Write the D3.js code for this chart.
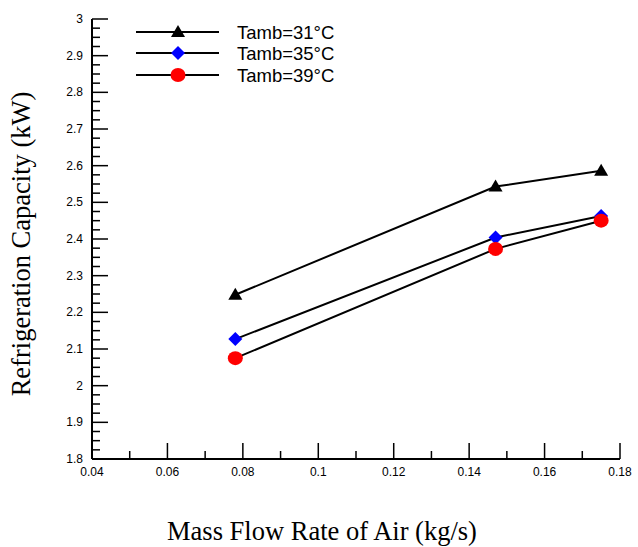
<!DOCTYPE html>
<html>
<head>
<meta charset="utf-8">
<script src="https://cdn.jsdelivr.net/npm/d3@7"></script>
<style>
  html, body { margin: 0; padding: 0; background: #fff; }
  svg { display: block; }
</style>
</head>
<body>
<svg id="chart" width="638" height="547"></svg>
<script>
// Mass flow rate of air (kg/s)
const massFlow = [0.078, 0.147, 0.175];
// Refrigeration capacity (kW) for each ambient temperature
const capT31 = [2.248, 2.543, 2.586];
const capT35 = [2.127, 2.404, 2.463];
const capT39 = [2.075, 2.373, 2.450];
const seriesNames = ["Tamb=31°C", "Tamb=35°C", "Tamb=39°C"];
const xTickValues = [0.04, 0.06, 0.08, 0.1, 0.12, 0.14, 0.16, 0.18];
const yTickValues = [1.8, 1.9, 2, 2.1, 2.2, 2.3, 2.4, 2.5, 2.6, 2.7, 2.8, 2.9, 3];

(function () {
const series = [
  { name: seriesNames[0], values: capT31, marker: "triangle", color: "#000000" },
  { name: seriesNames[1], values: capT35, marker: "diamond", color: "#0000ff" },
  { name: seriesNames[2], values: capT39, marker: "circle", color: "#ff0000" }
];

const svg = d3.select("#chart");
const plotLeft = 92, plotRight = 620, plotTop = 19, plotBottom = 459;

const x = d3.scaleLinear().domain([0.04, 0.18]).range([plotLeft, plotRight]);
const y = d3.scaleLinear().domain([1.8, 3]).range([plotBottom, plotTop]);

const tickFont = "'Liberation Sans', Arial, sans-serif";
const serif = "'Liberation Serif', 'Times New Roman', serif";

// Minor ticks
const xMinor = d3.range(0.05, 0.18, 0.02);
const yMinor = d3.range(1.8, 3.0001, 0.025).filter(v => Math.abs(v * 10 - Math.round(v * 10)) > 1e-6);

const g = svg.append("g");

g.selectAll(".xminor").data(xMinor).join("line")
  .attr("x1", d => x(d)).attr("x2", d => x(d))
  .attr("y1", plotBottom).attr("y2", plotBottom - 8)
  .attr("stroke", "#000").attr("stroke-width", 1.5);
g.selectAll(".xmajor").data(xTickValues).join("line")
  .attr("x1", d => x(d)).attr("x2", d => x(d))
  .attr("y1", plotBottom).attr("y2", plotBottom - 16)
  .attr("stroke", "#000").attr("stroke-width", 1.5);
g.selectAll(".yminor").data(yMinor).join("line")
  .attr("x1", plotLeft).attr("x2", plotLeft + 8)
  .attr("y1", d => y(d)).attr("y2", d => y(d))
  .attr("stroke", "#000").attr("stroke-width", 1.5);
g.selectAll(".ymajor").data(yTickValues).join("line")
  .attr("x1", plotLeft).attr("x2", plotLeft + 16)
  .attr("y1", d => y(d)).attr("y2", d => y(d))
  .attr("stroke", "#000").attr("stroke-width", 1.5);

// Axis lines
g.append("line").attr("x1", plotLeft).attr("x2", plotLeft).attr("y1", plotTop).attr("y2", plotBottom)
  .attr("stroke", "#000").attr("stroke-width", 2);
g.append("line").attr("x1", plotLeft).attr("x2", plotRight).attr("y1", plotBottom).attr("y2", plotBottom)
  .attr("stroke", "#000").attr("stroke-width", 2);

// Tick labels
g.selectAll(".xlab").data(xTickValues).join("text")
  .attr("x", d => x(d)).attr("y", plotBottom + 17)
  .attr("text-anchor", "middle")
  .attr("font-family", tickFont).attr("font-size", 12)
  .text(d => d3.format("")(d));
g.selectAll(".ylab").data(yTickValues).join("text")
  .attr("x", plotLeft - 9).attr("y", d => y(d) + 4)
  .attr("text-anchor", "end")
  .attr("font-family", tickFont).attr("font-size", 12)
  .text(d => d3.format("")(+d.toFixed(1)));

// Axis titles
svg.append("text")
  .attr("x", 322).attr("y", 540)
  .attr("text-anchor", "middle")
  .attr("font-family", serif).attr("font-size", 26.5)
  .text("Mass Flow Rate of Air (kg/s)");
svg.append("text")
  .attr("transform", "translate(30,244) rotate(-90)")
  .attr("text-anchor", "middle")
  .attr("font-family", serif).attr("font-size", 26.5)
  .text("Refrigeration Capacity (kW)");

// Marker drawing
function drawMarker(sel, type, color) {
  if (type === "triangle") {
    sel.append("path").attr("d", "M0,-7L7,5L-7,5Z").attr("fill", color);
  } else if (type === "diamond") {
    sel.append("path").attr("d", "M0,-7L7,0L0,7L-7,0Z").attr("fill", color);
  } else {
    sel.append("ellipse").attr("rx", 7.5).attr("ry", 7).attr("fill", color);
  }
}

const line = d3.line().x(d => x(d[0])).y(d => y(d[1]));

series.forEach(s => {
  const pts = massFlow.map((m, i) => [m, s.values[i]]);
  svg.append("path").datum(pts)
    .attr("d", line)
    .attr("fill", "none").attr("stroke", "#000").attr("stroke-width", 2);
  pts.forEach(p => {
    const mg = svg.append("g").attr("transform", `translate(${x(p[0])},${y(p[1])})`);
    drawMarker(mg, s.marker, s.color);
  });
});

// Legend
const legendRows = [32, 53, 75];
series.forEach((s, i) => {
  const ly = legendRows[i];
  svg.append("line").attr("x1", 136).attr("x2", 219).attr("y1", ly).attr("y2", ly)
    .attr("stroke", "#000").attr("stroke-width", 2);
  const mg = svg.append("g").attr("transform", `translate(178,${ly})`);
  drawMarker(mg, s.marker, s.color);
  svg.append("text").attr("x", 237).attr("y", ly + 6.5)
    .attr("font-family", tickFont).attr("font-size", 18.5)
    .text(s.name);
});
})();
</script>
</body>
</html>
